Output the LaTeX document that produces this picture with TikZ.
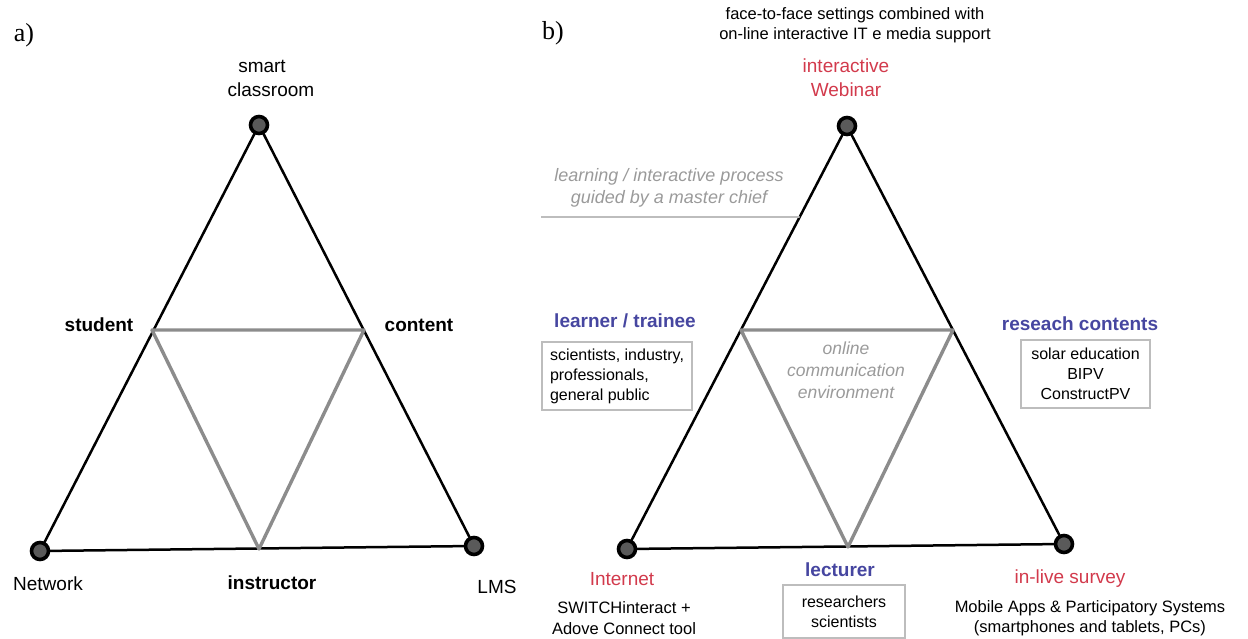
\documentclass[tikz,border=0pt]{standalone}
\usepackage{fontspec}
\setmainfont{Liberation Sans}
\newfontfamily\seriffont{Liberation Serif}
\definecolor{dotfill}{HTML}{5A5A5A}
\definecolor{innergray}{HTML}{8C8C8C}
\definecolor{redtxt}{HTML}{D23A4C}
\definecolor{bluetxt}{HTML}{4646A0}
\definecolor{graytxt}{HTML}{9A9A9A}
\definecolor{boxgray}{HTML}{BDBDBD}
\tikzset{
  dot/.style={circle, fill=dotfill, draw=black, line width=3.6pt, minimum size=17pt, inner sep=0pt},
  outer/.style={black, line width=2.5pt},
  inner/.style={innergray, line width=3.4pt, line join=round},
  lbl/.style={inner sep=0pt, align=center, font=\fontsize{19}{24}\selectfont},
  blbl/.style={lbl, font=\fontsize{19}{24}\selectfont\bfseries},
  panel/.style={inner sep=0pt, font=\fontsize{26}{30}\selectfont\seriffont},
  small/.style={inner sep=0pt, align=center, font=\fontsize{16.5}{20.5}\selectfont},
  infobox/.style={draw=boxgray, line width=1.8pt, inner sep=5pt, font=\fontsize{16}{20}\selectfont},
}
\begin{document}
\begin{tikzpicture}[x=1pt,y=-1pt]
\useasboundingbox (0,0) rectangle (1248,639);
% ---------------- panel a ----------------
\node[panel] (pa) at (24,35) {a)};
\coordinate (aT) at (259,125);
\coordinate (aL) at (40,551);
\coordinate (aR) at (474,546);
\coordinate (aS) at (152,330);
\coordinate (aC) at (364,330);
\coordinate (aI) at (259,549);
\draw[outer] (aT) -- (aL) -- (aR) -- cycle;
\draw[inner] (aS) -- (aC) -- (aI) -- cycle;
\node[dot] (daT) at (aT) {};
\node[dot] (daL) at (aL) {};
\node[dot] (daR) at (aR) {};
\node[lbl] (lsmart) at (262,78) {smart\\ \hspace*{18pt}classroom};
\node[blbl] (lstud) at (99,325) {student};
\node[blbl] (lcont) at (419,325) {content};
\node[lbl] (lnet) at (48,584) {Network};
\node[blbl] (linst) at (272,583) {instructor};
\node[lbl] (llms) at (497,587) {LMS};
% ---------------- panel b ----------------
\node[panel] (pb) at (553,33) {b)};
\coordinate (bT) at (847,126);
\coordinate (bL) at (627,549);
\coordinate (bR) at (1064,544);
\coordinate (bS) at (741,330);
\coordinate (bC) at (953,330);
\coordinate (bI) at (848,547);
\draw[outer] (bT) -- (bL) -- (bR) -- cycle;
\draw[inner] (bS) -- (bC) -- (bI) -- cycle;
\node[dot] (dbT) at (bT) {};
\node[dot] (dbL) at (bL) {};
\node[dot] (dbR) at (bR) {};
\node[small] (ftf) at (855,25) {face-to-face settings combined with\\on-line interactive IT e media support};
\node[lbl, text=redtxt] (lweb) at (846,78) {interactive\\Webinar};
\node[lbl, text=graytxt, font=\fontsize{18}{22}\selectfont\itshape] (lguide) at (669,188) {learning / interactive process\\guided by a master chief};
\coordinate (gstart) at (541,217);
\path (bT) -- (bL) coordinate[pos=0.215] (gend);
\draw[boxgray, line width=1.8pt] (gstart) -- (gend);
\node[blbl, text=bluetxt] (llearn) at (625,321) {learner / trainee};
\node[infobox, align=left, minimum width=150pt, minimum height=68pt] (blearn) at (617,376)
  {scientists, industry,\\professionals,\\general public};
\node[lbl, text=graytxt, font=\fontsize{17.5}{22}\selectfont\itshape] (lonline) at (846,370) {online\\communication\\environment};
\node[blbl, text=bluetxt] (lres) at (1080,324) {reseach contents};
\node[infobox, align=center, minimum width=129pt, minimum height=68pt] (bres) at (1085.5,374)
  {solar education\\BIPV\\ConstructPV};
\node[lbl, text=redtxt] (linet) at (622,579) {Internet};
\node[small] (lswitch) at (624,618) {SWITCHinteract +\\Adove Connect tool};
\node[blbl, text=bluetxt] (llect) at (840,570) {lecturer};
\node[infobox, align=center, minimum width=122pt, minimum height=53pt] (blect) at (844,611.5)
  {researchers\\scientists};
\node[lbl, text=redtxt] (lsurv) at (1070,579) {in-live survey};
\node[small] (lmob) at (1090,618) {Mobile Apps \& Participatory Systems\\(smartphones and tablets, PCs)};
\end{tikzpicture}
\end{document}
